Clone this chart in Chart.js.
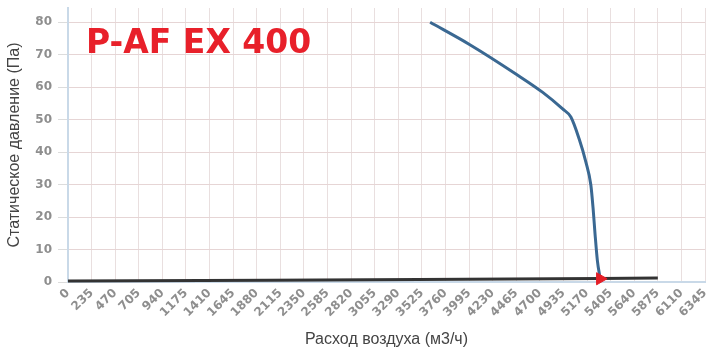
<!DOCTYPE html>
<html>
<head>
<meta charset="utf-8">
<script src="https://cdn.jsdelivr.net/npm/chart.js@4.4.0/dist/chart.umd.min.js"></script>
<style>
html, body { margin: 0; padding: 0; background: #fff; }
#wrap { width: 713px; height: 350px; }
</style>
</head>
<body>
<div id="wrap"><canvas id="myChart"></canvas></div>
<script>
// tick labels
var xTicks = [0, 235, 470, 705, 940, 1175, 1410, 1645, 1880, 2115, 2350, 2585, 2820, 3055,
	3290, 3525, 3760, 3995, 4230, 4465, 4700, 4935, 5170, 5405, 5640, 5875, 6110, 6345]
var yTicks = [0, 5, 10, 15, 20, 25, 30, 35, 40, 45, 50, 55, 60, 65, 70, 75, 80]

// fan curve
var fanFlow = [3607, 4003, 4465, 4729, 4927, 5009, 5091, 5158, 5208, 5230, 5250, 5273, 5300]
var fanPressure = [80, 73.1, 64, 58.4, 53.3, 50.8, 44.1, 37, 29.9, 22.8, 14.7, 6.6, 1.2]

// system (duct) line
var sysFlow = [0, 2000, 3500, 5300, 5875]
var sysPressure = [0.3, 0.55, 0.8, 1.1, 1.2]

// operating point
var opFlow = [5300]
var opPressure = [1.0]

var tickFont = { family: '"DejaVu Sans"', size: 12, weight: 'bold' }
var tickGray = '#8e8e8e'
var axisBlue = '#c9d9e8'

function toPoints(xs, ys) {
	return xs.map(function (x, i) { return { x: x, y: ys[i] } })
}

var modelTitle = {
	id: 'modelTitle',
	afterDraw: function (chart) {
		var c = chart.ctx
		c.save()
		c.font = 'bold 33px "DejaVu Sans"'
		c.fillStyle = '#e8202a'
		c.textBaseline = 'alphabetic'
		c.fillText('P-AF EX 400', 86, 53)
		c.restore()
	}
}

var ctx = document.getElementById('myChart')
var chart = new Chart(ctx, {
	type: 'scatter',
	data: {
		datasets: [{
			data: toPoints(opFlow, opPressure),
			pointStyle: 'triangle',
			pointRotation: 90,
			pointRadius: 7,
			backgroundColor: '#e41e26',
			borderColor: '#e41e26',
			clip: false,
			order: 0,
		}, {
			data: toPoints(fanFlow, fanPressure),
			showLine: true,
			borderColor: '#3a6892',
			borderWidth: 3,
			pointRadius: 0,
			cubicInterpolationMode: 'monotone',
			order: 1,
		}, {
			data: toPoints(sysFlow, sysPressure),
			showLine: true,
			borderColor: '#333333',
			borderWidth: 3,
			pointRadius: 0,
			clip: false,
			order: 2,
		}]
	},
	options: {
		maintainAspectRatio: false,
		animation: false,
		layout: { padding: { top: 5, right: 2, left: 0, bottom: 0 } },
		plugins: {
			legend: { display: false },
			tooltip: { enabled: false },
		},
		scales: {
			x: {
				type: 'linear',
				min: 0,
				max: 6345,
				afterBuildTicks: function (s) { s.ticks = xTicks.map(function (v) { return { value: v } }) },
				afterFit: function (s) {
					s.height = 68
					s.paddingLeft = 0
					s.paddingRight = 0
				},
				ticks: {
					autoSkip: false,
					minRotation: 45,
					maxRotation: 45,
					padding: 4,
					color: tickGray,
					font: tickFont,
					callback: function (v) { return String(v) },
				},
				grid: { color: '#e9dfdf', drawTicks: false },
				border: { color: axisBlue, width: 2 },
				title: {
					display: true,
					text: 'Расход воздуха (м3/ч)',
					color: '#444',
					font: { family: '"Liberation Sans"', size: 16 },
					padding: { top: 0, bottom: 1 },
				},
			},
			y: {
				min: 0,
				max: 84.4,
				afterBuildTicks: function (s) { s.ticks = yTicks.map(function (v) { return { value: v } }) },
				afterFit: function (s) {
					s.width = 68
					s.paddingTop = 0
					s.paddingBottom = 0
				},
				ticks: {
					padding: 6,
					color: tickGray,
					font: tickFont,
					callback: function (v) { return v % 10 === 0 ? String(v) : '' },
				},
				grid: {
					color: function (c) { return c.tick && c.tick.value % 10 === 0 ? '#e6d5d5' : '#efe8e8' },
					tickColor: function (c) { return c.tick && c.tick.value % 10 === 0 ? '#dcdcdc' : 'rgba(0,0,0,0)' },
					tickLength: 10,
				},
				border: { color: axisBlue, width: 2 },
				title: {
					display: true,
					text: 'Статическое давление (Па)',
					color: '#444',
					font: { family: '"Liberation Sans"', size: 16 },
					padding: { top: 5, bottom: 5 },
				},
			},
		},
	},
	plugins: [modelTitle],
})
</script>
</body>
</html>
